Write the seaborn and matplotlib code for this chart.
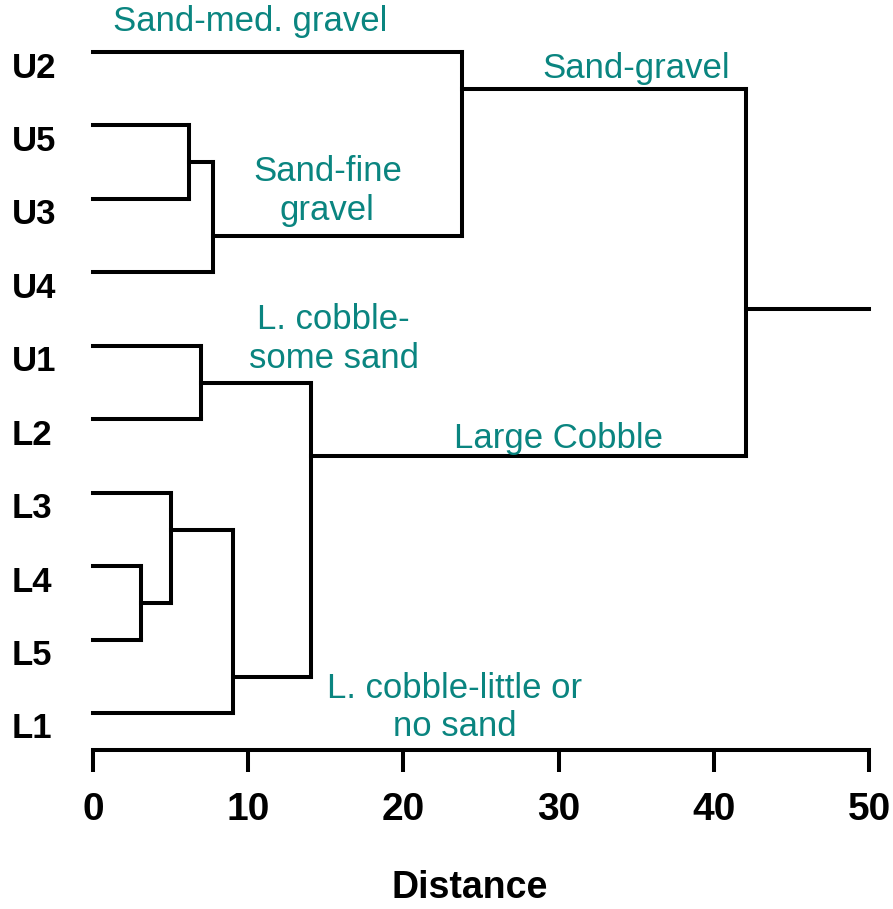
import numpy as np
import pandas as pd
import matplotlib
matplotlib.use("Agg")
import matplotlib.pyplot as plt
import seaborn as sns

# leaves, top to bottom
leaves = ["U2", "U5", "U3", "U4", "U1", "L2", "L3", "L4", "L5", "L1"]
# merges: node ids 0-9 are leaves, 10+ are new clusters in this order
merge_a = [1, 10, 0, 7, 6, 14, 4, 16, 12]
merge_b = [2, 3, 11, 8, 13, 9, 5, 15, 17]
merge_dist = [6.2, 7.7, 23.8, 3.1, 5.05, 9.0, 6.95, 14.05, 42.1]
merge_stem = [1.5, 2.5, 0.5, 7.5, 6.5, 8.5, 4.5, 5.5, 3.5]  # where branch leaves the bracket
root_end = 50

group_text = ["Sand-med. gravel", "Sand-gravel", "Sand-fine\ngravel",
              "L. cobble-\nsome sand", "Large Cobble", "L. cobble-little or\nno sand"]
group_x = [10.1, 35.0, 15.1, 15.5, 30.0, 23.3]
group_y = [-0.41, 0.22, 1.89, 3.91, 5.26, 8.92]

xticks = [0, 10, 20, 30, 40, 50]

TEAL = "#0a8580"
LW = 2.9

sns.set_style("white")
plt.rcParams['font.family'] = ['Liberation Sans', 'DejaVu Sans']
plt.rcParams['text.color'] = 'black'
plt.rcParams['xtick.color'] = 'black'
plt.rcParams['axes.labelcolor'] = 'black'

# build segments
node_x = {i: 0.0 for i in range(len(leaves))}
node_y = {i: float(i) for i in range(len(leaves))}
rows = []
seg = 0
for k, (a, b, d, s) in enumerate(zip(merge_a, merge_b, merge_dist, merge_stem)):
	for c in (a, b):
		rows.append((seg, node_x[c], node_y[c]))
		rows.append((seg, d, node_y[c]))
		seg += 1
	rows.append((seg, d, node_y[a]))
	rows.append((seg, d, node_y[b]))
	seg += 1
	nid = len(leaves) + k
	node_x[nid] = d
	node_y[nid] = s
top = len(leaves) + len(merge_a) - 1
rows.append((seg, node_x[top], node_y[top]))
rows.append((seg, root_end, node_y[top]))
df = pd.DataFrame(rows, columns=["seg", "x", "y"])

fig = plt.figure(figsize=(8.93, 9.09), dpi=100)
ax = fig.add_axes([93/893, 1-750/909, 776/893, 740/909])
sns.lineplot(data=df, x="x", y="y", units="seg", estimator=None, sort=False,
	color="black", lw=LW, ax=ax, legend=False)
for line in ax.lines:
	line.set_clip_on(False)
	line.set_solid_capstyle("projecting")

ax.set_xlim(0, 50)
ax.set_ylim(9.5, -0.572)
for sp in ["top", "right", "left"]:
	ax.spines[sp].set_visible(False)
ax.spines["bottom"].set_linewidth(LW)
ax.spines["bottom"].set_color("black")
ax.set_xticks(xticks)
ax.set_xticklabels([str(t) for t in xticks], fontsize=28, weight='bold')
ax.tick_params(axis='x', direction='out', length=16, width=LW, color='black',
	labelcolor='black', pad=14, bottom=True)
ax.set_yticks([])
ax.set_ylabel("")
ax.set_xlabel("Distance", fontsize=27, weight='bold', color='black')
ax.xaxis.set_label_coords(0.486, -(888-750)/740)
ax.xaxis.label.set_va("center")

for i, name in enumerate(leaves):
	fig.text(12/893, 1-(52 + i*73.44 + 16)/909, name, fontsize=25, weight='bold',
		ha='left', va='center', color='black')

for t, x, y in zip(group_text, group_x, group_y):
	ax.text(x, y, t, color=TEAL, fontsize=25, ha='center', va='center',
		linespacing=1.22, clip_on=False)

fig.savefig("out.png", dpi=100)
